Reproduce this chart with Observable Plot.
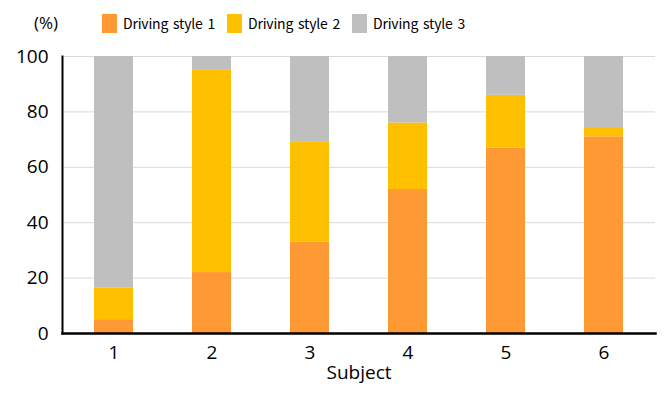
<!DOCTYPE html>
<html>
<head>
<meta charset="utf-8">
<script src="https://cdn.jsdelivr.net/npm/d3@7"></script>
<script src="https://cdn.jsdelivr.net/npm/@observablehq/plot@0.6"></script>
<style>
  html, body { margin: 0; padding: 0; background: #fff; }
  body { width: 669px; height: 400px; overflow: hidden; font-family: "Open Sans", sans-serif; }
  #legend { position: relative; width: 669px; height: 46px; }
  #legend .unit { position: absolute; left: 34px; top: 13px; font-size: 17px; line-height: 19px; color: #000; }
  #legend .sw { position: absolute; top: 14px; width: 15px; height: 19px; }
  #legend .lt { position: absolute; top: 14px; font-family: "Noto Sans CJK KR", "Open Sans", sans-serif; font-size: 14px; line-height: 19px; color: #000; word-spacing: 2px; letter-spacing: -0.2px; white-space: nowrap; }
</style>
</head>
<body>
<div id="legend"></div>
<div id="chart"></div>
<script>
const subjects = ["1", "2", "3", "4", "5", "6"];
const seriesNames = ["Driving style 1", "Driving style 2", "Driving style 3"];
const style1 = [5, 22, 33, 52, 67, 71];
const style2 = [11.5, 73, 36, 24, 19, 3];
const style3 = [83.5, 5, 31, 24, 14, 26];
const colors = ["#FF9933", "#FFC000", "#BFBFBF"];
const yTicks = [0, 20, 40, 60, 80, 100];

const seriesValues = [style1, style2, style3];
const rows = [];
subjects.forEach((s, i) => {
  seriesNames.forEach((name, k) => {
    rows.push({subject: s, series: name, value: seriesValues[k][i]});
  });
});

// legend
const legend = document.getElementById("legend");
const unit = document.createElement("div");
unit.className = "unit";
unit.textContent = "(%)";
legend.appendChild(unit);
const swLeft = [102, 227, 352];
seriesNames.forEach((name, k) => {
  const sw = document.createElement("div");
  sw.className = "sw";
  sw.style.left = swLeft[k] + "px";
  sw.style.background = colors[k];
  legend.appendChild(sw);
  const t = document.createElement("div");
  t.className = "lt";
  t.style.left = (swLeft[k] + 21) + "px";
  t.textContent = name;
  legend.appendChild(t);
});

const chart = Plot.plot({
  width: 669,
  height: 354,
  marginTop: 10,
  marginBottom: 67,
  marginLeft: 62,
  marginRight: 14,
  style: {fontFamily: "Open Sans, sans-serif", background: "#fff", overflow: "visible"},
  x: {domain: subjects, paddingInner: 0.6, paddingOuter: 0.3, label: null},
  y: {domain: [0, 100], label: null},
  color: {domain: seriesNames, range: colors},
  marks: [
    Plot.gridY(yTicks.filter(d => d > 0), {stroke: "#D9D9D9", strokeOpacity: 1, strokeWidth: 1}),
    Plot.barY(rows, {x: "subject", y: "value", fill: "series"}),
    Plot.axisY(yTicks, {tickSize: 0, tickPadding: 14, fontSize: 19, fill: "#000"}),
    Plot.axisX(subjects, {tickSize: 0, tickPadding: 12, fontSize: 19, fill: "#000"}),
    Plot.frame({anchor: "left", stroke: "#000", strokeWidth: 2}),
    Plot.frame({anchor: "bottom", stroke: "#000", strokeWidth: 2.5}),
    Plot.text(["Subject"], {frameAnchor: "bottom", lineAnchor: "top", dy: 32, fontSize: 19, fill: "#000"})
  ]
});
document.getElementById("chart").appendChild(chart);
</script>
</body>
</html>
